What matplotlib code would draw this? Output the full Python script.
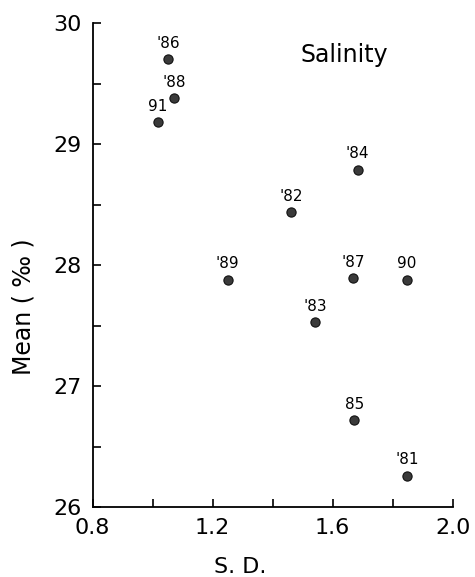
import matplotlib
matplotlib.use("Agg")
import matplotlib.pyplot as plt
from matplotlib.ticker import MultipleLocator

# данные: S.D. и среднее значение солёности по годам
labels = ["'86", "'88", "91", "'89", "'84", "'82", "'87", "90", "'83", "85", "'81"]
sd = [1.052, 1.071, 1.017, 1.250, 1.683, 1.461, 1.669, 1.848, 1.541, 1.672, 1.847]
mean = [29.70, 29.38, 29.18, 27.88, 28.79, 28.44, 27.89, 27.88, 27.53, 26.72, 26.26]

fig = plt.figure(figsize=(4.75, 5.77), dpi=100)
ax = fig.add_axes([0.195, 0.121, 0.758, 0.839])

ax.scatter(sd, mean, s=44, color='#3a3a3a', edgecolors='#111111', linewidths=0.8, zorder=3)

for x, y, t in zip(sd, mean, labels):
    ax.annotate(t, (x, y), xytext=(0, 6), textcoords='offset points',
                ha='center', va='bottom', fontsize=11)

ax.text(1.64, 29.74, 'Salinity', ha='center', va='center', fontsize=17)

ax.set_xlim(0.8, 2.0)
ax.set_ylim(26, 30)
ax.xaxis.set_major_locator(MultipleLocator(0.4))
ax.xaxis.set_minor_locator(MultipleLocator(0.2))
ax.yaxis.set_major_locator(MultipleLocator(1))
ax.yaxis.set_minor_locator(MultipleLocator(0.5))
ax.xaxis.set_major_formatter(plt.FuncFormatter(lambda v, p: f'{v:.1f}'))
ax.yaxis.set_major_formatter(plt.FuncFormatter(lambda v, p: f'{v:.0f}'))

ax.spines['top'].set_visible(False)
ax.spines['right'].set_visible(False)
ax.spines['left'].set_linewidth(1.3)
ax.spines['bottom'].set_linewidth(1.3)
ax.tick_params(which='both', direction='in', length=6, width=1.2, labelsize=16, pad=8)

ax.set_xlabel('S. D.', fontsize=16)
ax.set_ylabel('Mean ( ‰ )', fontsize=17)
ax.xaxis.set_label_coords(0.41, -0.103)
ax.yaxis.set_label_coords(-0.16, 0.415)

plt.savefig('out.png', dpi=100)
